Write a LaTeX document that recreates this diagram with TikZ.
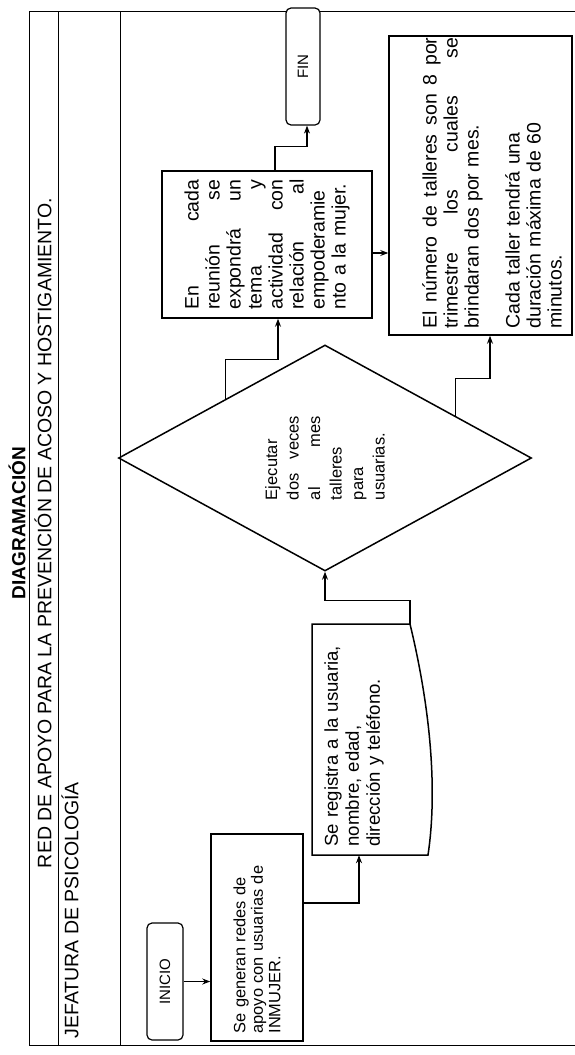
\documentclass[tikz,border=0pt]{standalone}
\usepackage{fontspec}
\setmainfont{Liberation Sans}
\usetikzlibrary{arrows.meta, positioning, shapes.geometric, calc}

\tikzset{
  caja/.style={draw, line width=1.5pt, rotate=90, fill=white, inner sep=4pt},
  terminal/.style={draw, line width=1.2pt, rounded corners=5pt, rotate=90, fill=white, font=\fontsize{15}{17}\selectfont},
  flecha/.style={line width=1.1pt, -{Stealth[length=8pt, width=6pt]}},
  marco/.style={line width=0.9pt},
}

\begin{document}
\begin{tikzpicture}[x=1pt, y=-1pt]
    \useasboundingbox (0,0) rectangle (575,1055);
    % marco
    \draw[marco] (575,11) -- (29,11) -- (29,1045) -- (575,1045);
    \draw[marco] (58,11) -- (58,1045);
    \draw[marco] (120,11) -- (120,1045);
    % titulos
    \node[rotate=90, font=\bfseries\fontsize{19}{21}\selectfont] (titulo) at (17,523) {DIAGRAMACIÓN};
    \node[rotate=90, font=\fontsize{19.5}{21}\selectfont] (red) at (43,533) {RED DE APOYO PARA LA PREVENCIÓN DE ACOSO Y HOSTIGAMIENTO.};
    \node[rotate=90, anchor=west, font=\fontsize{19.5}{21}\selectfont] (jefatura) at (70,1042) {JEFATURA DE PSICOLOGÍA};
    % pasos
    \node[terminal, minimum width=117pt, minimum height=36pt] (inicio) at (165,981.5) {INICIO};
    \node[caja, minimum width=207pt, minimum height=92pt, text width=192pt, align=left, font=\fontsize{16.4}{17.5}\selectfont] (generan) at (257,937.5) {Se generan redes de\\apoyo con usuarias de\\INMUJER.};
    \node[rotate=90, minimum width=231pt, minimum height=88pt, text width=214pt, align=left, font=\fontsize{18.6}{21}\selectfont] (registra) at (354,739.5) {Se registra a la usuaria,\\nombre, edad,\\dirección y teléfono.};
    \draw[line width=1.5pt] (410,624) -- (312,624) -- (312,855) -- (428,855) .. controls (437,795) and (432,715) .. (410,624);
    \node[diamond, draw, line width=1.5pt, rotate=90, minimum width=226pt, minimum height=413pt, inner sep=0pt, text width=84pt, align=left, font=\fontsize{16.5}{21.5}\selectfont] (ejecutar) at (325,458) {Ejecutar\\dos\hfill veces\\al\hfill mes\\talleres\\para\\usuarias.};
    \node[caja, minimum width=147pt, minimum height=210pt, text width=130pt, align=left, font=\fontsize{19.5}{21}\selectfont] (cada) at (267,244.5) {En\hfill cada\\reunión\hfill se\\expondrá\hfill un\\tema\hfill y\\actividad\hfill con\\relación\hfill al\\empoderamie\\nto a la mujer.};
    \node[caja, minimum width=299pt, minimum height=183pt] (numero) at (480.5,185.5) {};
    \node[rotate=90, text width=291pt, align=left, font=\fontsize{19.5}{21}\selectfont] (numtxt) at (492,183) {El\hfill número\hfill de\hfill talleres\hfill son\hfill 8\hfill por\\trimestre\hfill los\hfill cuales\hfill se\\brindaran dos por mes.\\[20pt]Cada taller tendrá una\\duración máxima de 60\\minutos.};
    \node[terminal, minimum width=117pt, minimum height=34pt] (fin) at (303,66.5) {FIN};
    % conectores
    \draw[flecha] (inicio.south) -- (generan.north |- inicio.south);
    \draw[flecha] ($(generan.south)+(0,-34.5)$) -| ($(registra.west)+(5,0)$);
    \draw[flecha] ($(registra.east)+(56,0)$) -- ++(0,-23) -| (ejecutar.west);
    \draw[flecha] ($(ejecutar.north)!0.52!(ejecutar.east)$) -- ++(0,-39) -| ($(cada.west)+(11,0)$);
    \draw[flecha] ($(ejecutar.east)!0.63!(ejecutar.south)$) -- ++(0,-37) -| ($(numero.west)+(9.5,0)$);
    \draw[flecha] ($(cada.south)+(0,8.5)$) coordinate (cn) -- (numero.north |- cn);
    \draw[flecha] ($(cada.east)+(8,0)$) -- ++(0,-24) -| ($(fin.west)+(4,0)$);
\end{tikzpicture}
\end{document}
